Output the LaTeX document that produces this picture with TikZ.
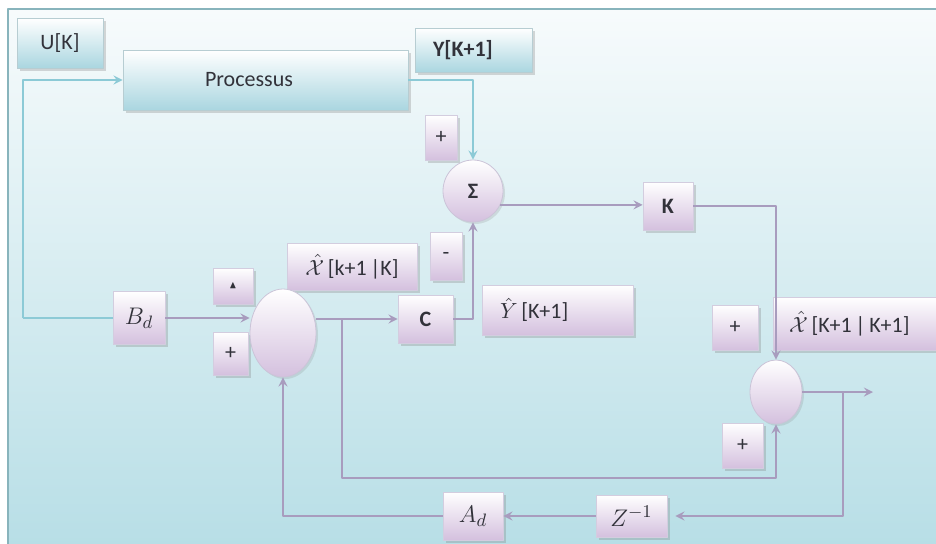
\documentclass[tikz,border=0pt]{standalone}
\usepackage{amssymb}
\usepackage{fontspec}
\setmainfont{Carlito}
\usetikzlibrary{shapes.geometric,shadows,calc}
\definecolor{bgtop}{RGB}{247,251,252}
\definecolor{bgmid}{RGB}{212,235,240}
\definecolor{bgbot}{RGB}{183,222,230}
\definecolor{cyfill}{RGB}{170,214,224}
\definecolor{cyline}{RGB}{140,202,214}
\definecolor{pufill}{RGB}{212,192,222}
\definecolor{puline}{RGB}{168,156,190}
\definecolor{ink}{RGB}{50,50,58}
\tikzset{
  cbox/.style={rectangle, draw=cyline!60!gray!60, line width=.4pt, top color=white, bottom color=cyfill,
    drop shadow={opacity=.3, shadow xshift=1.3pt, shadow yshift=-1.3pt}, text=ink, inner sep=0pt},
  pbox/.style={rectangle, draw=puline!50, line width=.4pt, top color=white, bottom color=pufill,
    drop shadow={opacity=.3, shadow xshift=1.3pt, shadow yshift=-1.3pt}, text=ink, inner sep=0pt},
  som/.style={ellipse, draw=puline!60, line width=.4pt, top color=white, bottom color=pufill, inner sep=0pt,
    drop shadow={opacity=.2, shadow xshift=1pt, shadow yshift=-1pt}, text=ink},
  pl/.style={draw=puline, line width=1pt},
  cl/.style={draw=cyline, line width=1pt},
}
\begin{document}
\begin{tikzpicture}[x=.5pt, y=-.5pt, font=\fontsize{11}{13}\selectfont, line join=round, >=stealth]
\useasboundingbox (0,0) rectangle (936,543);
% fond
\shade[top color=bgtop, middle color=bgmid, bottom color=bgbot] (8,9) rectangle (945,550);
\draw[cyline!70!gray, line width=.6pt] (8,550) -- (8,9) -- (945,9);

% blocs
\node[cbox, minimum width=43pt, minimum height=25pt] (uk) at (60,43) {U[K]};
\node[cbox, minimum width=142.5pt, minimum height=30pt, inner xsep=41pt, text width=60.5pt, align=left] (proc) at (265.5,80) {Processus};
\node[cbox, minimum width=58.5pt, minimum height=22pt, inner xsep=9pt, text width=40.5pt, align=left] (yk) at (473.5,50) {\textbf{Y[K+1]}};
\node[pbox, minimum width=16pt, minimum height=22.5pt] (pa) at (441,137.5) {+};
\node[som, minimum width=30pt, minimum height=31pt] (sig) at (473,191) {\textbf{Σ}};
\node[pbox, minimum width=16pt, minimum height=24pt] (mb) at (446,256) {-};
\node[pbox, minimum width=25pt, minimum height=24pt] (kg) at (668,206) {\textbf{K}};
\node[pbox, minimum width=65pt, minimum height=23.5pt] (xp) at (352,266.5) {$\hat{\mathcal{X}}$\,[k+1\,|K]};
\node[pbox, minimum width=20pt, minimum height=18pt] (tb) at (233,286) {\raisebox{-2pt}{\tiny$\blacktriangle$}};
\node[pbox, minimum width=17.5pt, minimum height=21.5pt] (pb) at (230.5,353.5) {+};
\node[pbox, minimum width=26pt, minimum height=26.5pt, font=\fontsize{13}{15}\selectfont] (bd) at (139,318) {$B_d$};
\node[som, minimum width=33pt, minimum height=44pt] (s1) at (283,333) {};
\node[pbox, minimum width=27.5pt, minimum height=24pt] (cc) at (425.5,319) {\textbf{C}};
\node[pbox, minimum width=75.5pt, minimum height=25pt, inner xsep=9pt, text width=57.5pt, align=left] (yh) at (557.5,310) {$\hat{Y}$\,[K+1]};
\node[pbox, minimum width=23pt, minimum height=22.5pt] (pc) at (735,327.5) {+};
\node[pbox, minimum width=83pt, minimum height=26.5pt, inner xsep=8pt, text width=67pt, align=left] (xu) at (856,323.5) {$\hat{\mathcal{X}}$\,[K+1\,|\,K+1]};
\node[som, minimum width=26pt, minimum height=32pt] (s2) at (776,392) {};
\node[pbox, minimum width=20.5pt, minimum height=22.5pt] (pd) at (742.5,445.5) {+};
\node[pbox, minimum width=30pt, minimum height=24pt, font=\fontsize{13}{15}\selectfont] (ad) at (473,516) {$A_d$};
\node[pbox, minimum width=35.5pt, minimum height=21pt, font=\fontsize{13}{15}\selectfont] (zi) at (631.5,516) {$Z^{-1}$};

% liaisons
\coordinate (uj) at (23,318);
\coordinate (ib) at (342,319);
\coordinate (br) at (843,392);
\coordinate (sortie) at (873,392);
\draw[cl,->] (uj) |- (proc.west);
\draw[cl] (uj) -- (bd.west);
\draw[cl,->] (proc.east) -| (sig.north);
\draw[pl,->] (cc.east) -| (sig.south);
\draw[pl,->] (sig.-27) -- (sig.-27 -| kg.west);
\draw[pl,->] (kg.east) -| (s2.north);
\draw[pl,->] (bd.east) -- (bd.east -| s1.west);
\draw[pl,->] (cc.west -| s1.east) -- (cc.west);
\draw[pl,->] (ib) |- ($(s2.south)+(0,54)$) -- (s2.south);
\draw[pl,->] (s2.east) -- (sortie);
\draw[pl,->,shorten >=4pt] (br) |- (zi.east);
\draw[pl,->] (zi.west) -- (ad.east);
\draw[pl,->] (ad.west) -| (s1.south);
\end{tikzpicture}
\end{document}
